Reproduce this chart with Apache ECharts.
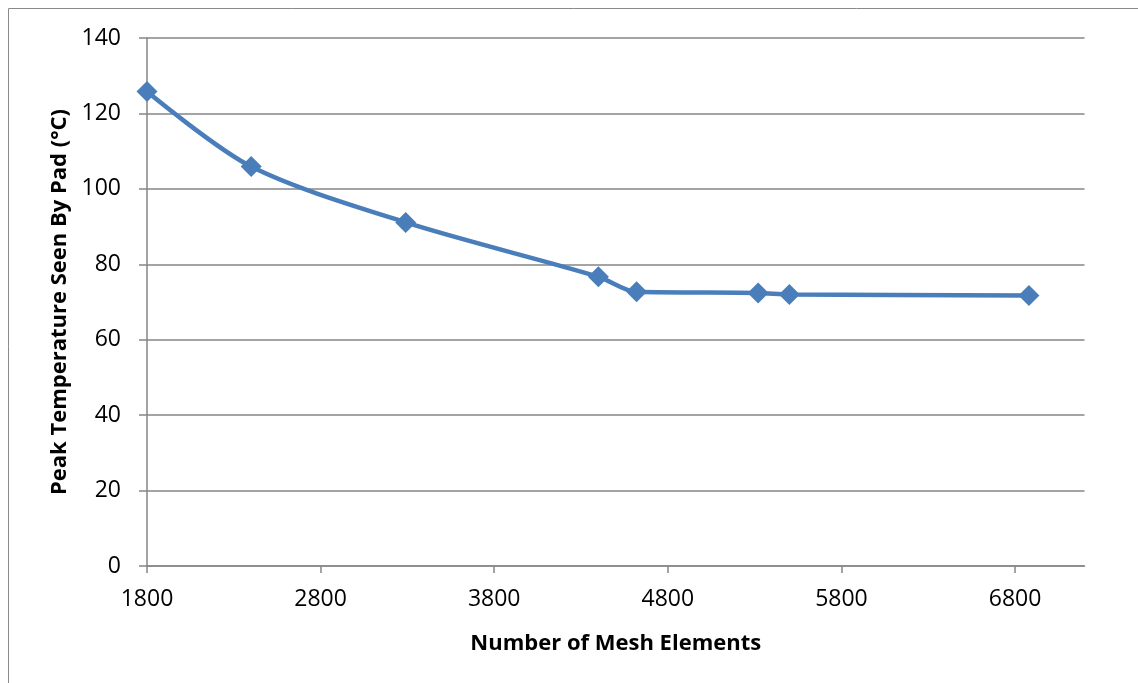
<!DOCTYPE html>
<html>
<head>
<meta charset="utf-8">
<script src="https://cdn.jsdelivr.net/npm/echarts@6/dist/echarts.min.js"></script>
<style>
  html, body { margin: 0; padding: 0; background: #fff; }
  #chart { width: 1138px; height: 683px; }
</style>
</head>
<body>
<div id="chart"></div>
<script>
// Mesh convergence study: element count vs. peak pad temperature
const meshElements = [1800, 2400, 3290, 4400, 4620, 5320, 5500, 6880];
const peakTemp = [125.8, 105.9, 91.1, 76.7, 72.7, 72.4, 72.0, 71.7];
const xTicks = [1800, 2800, 3800, 4800, 5800, 6800];
const yTicks = [0, 20, 40, 60, 80, 100, 120, 140];

const FONT = '"Open Sans", "Liberation Sans", sans-serif';
const GRID_GREY = '#868686';

const chart = echarts.init(document.getElementById('chart'), null, { renderer: 'canvas' });

chart.setOption({
  backgroundColor: '#ffffff',
  animation: false,
  graphic: [{
    type: 'rect',
    shape: { x: 8.5, y: 8.5, width: 1140, height: 690 },
    style: { fill: 'none', stroke: '#8a8a8a', lineWidth: 1 }
  }],
  grid: { left: 147, right: 53.5, top: 38, bottom: 117, containLabel: false },
  xAxis: {
    type: 'value',
    min: 1800,
    max: 7200,
    interval: 1000,
    name: 'Number of Mesh Elements',
    nameLocation: 'middle',
    nameGap: 67,
    nameTextStyle: { fontFamily: FONT, fontSize: 22, fontWeight: 'bold', color: '#000' },
    axisLine: { show: true, lineStyle: { color: GRID_GREY, width: 1.5 } },
    axisTick: { show: true, length: 7, inside: false, customValues: xTicks, lineStyle: { color: GRID_GREY, width: 1.5 } },
    axisLabel: { customValues: xTicks, margin: 22, fontFamily: FONT, fontSize: 23, color: '#000', formatter: v => String(v) },
    splitLine: { show: false }
  },
  yAxis: {
    type: 'value',
    min: 0,
    max: 140,
    interval: 20,
    name: 'Peak Temperature Seen By Pad (°C)',
    nameLocation: 'middle',
    nameGap: 67,
    nameTextStyle: { fontFamily: FONT, fontSize: 22, fontWeight: 'bold', color: '#000' },
    axisLine: { show: true, lineStyle: { color: GRID_GREY, width: 1.5 } },
    axisTick: { show: true, length: 8, customValues: yTicks, lineStyle: { color: GRID_GREY, width: 1.5 } },
    axisLabel: { customValues: yTicks, margin: 26, fontFamily: FONT, fontSize: 23, color: '#000', formatter: v => String(v) },
    splitLine: { show: true, lineStyle: { color: GRID_GREY, width: 1.5 } }
  },
  series: [{
    type: 'line',
    data: meshElements.map((x, i) => [x, peakTemp[i]]),
    smooth: 0.3,
    symbol: 'diamond',
    symbolSize: 21,
    itemStyle: { color: '#4a7ebb' },
    lineStyle: { color: '#4a7ebb', width: 4.5 }
  }]
});
</script>
</body>
</html>
